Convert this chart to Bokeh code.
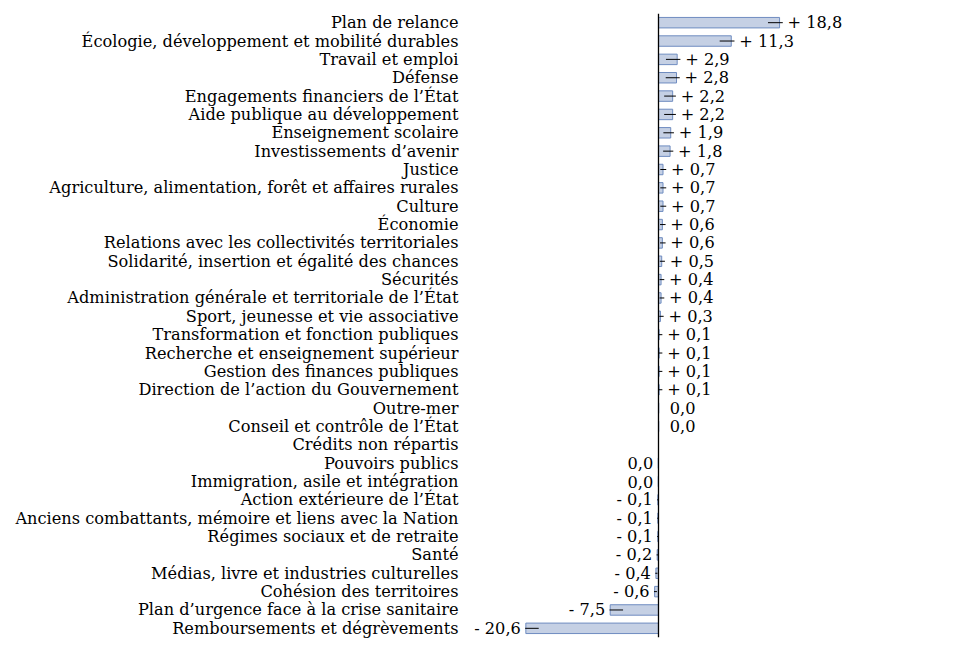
from bokeh.plotting import figure
from bokeh.models import ColumnDataSource, Range1d, FactorRange, Span
from bokeh.core.properties import value
from bokeh.embed import file_html
from bokeh.resources import INLINE

categories = [
    "Plan de relance",
    "Écologie, développement et mobilité durables",
    "Travail et emploi",
    "Défense",
    "Engagements financiers de l’État",
    "Aide publique au développement",
    "Enseignement scolaire",
    "Investissements d’avenir",
    "Justice",
    "Agriculture, alimentation, forêt et affaires rurales",
    "Culture",
    "Économie",
    "Relations avec les collectivités territoriales",
    "Solidarité, insertion et égalité des chances",
    "Sécurités",
    "Administration générale et territoriale de l’État",
    "Sport, jeunesse et vie associative",
    "Transformation et fonction publiques",
    "Recherche et enseignement supérieur",
    "Gestion des finances publiques",
    "Direction de l’action du Gouvernement",
    "Outre-mer",
    "Conseil et contrôle de l’État",
    "Crédits non répartis",
    "Pouvoirs publics",
    "Immigration, asile et intégration",
    "Action extérieure de l’État",
    "Anciens combattants, mémoire et liens avec la Nation",
    "Régimes sociaux et de retraite",
    "Santé",
    "Médias, livre et industries culturelles",
    "Cohésion des territoires",
    "Plan d’urgence face à la crise sanitaire",
    "Remboursements et dégrèvements",
]

values = [18.8, 11.3, 2.9, 2.8, 2.2, 2.2, 1.9, 1.8, 0.7, 0.7, 0.7, 0.6, 0.6,
          0.5, 0.4, 0.4, 0.3, 0.1, 0.1, 0.1, 0.1, 0.04, 0.04, None, -0.04,
          -0.04, -0.1, -0.1, -0.1, -0.2, -0.4, -0.6, -7.5, -20.6]

FONT = "DejaVu Serif"
FSIZE = "16.2px"
BAR_FILL = "#c5d0e4"
BAR_LINE = "#6f8cc0"

cats, vals = [], []
for c, v in zip(categories, values):
    if v is not None:
        cats.append(c)
        vals.append(v)

def fmt(v):
    r = round(v, 1)
    s = ("%.1f" % abs(r)).replace(".", ",")
    if r > 0:
        return "+ " + s
    if r < 0:
        return "- " + s
    return s

pos = dict(cat=[], x=[], text=[], off=[])
neg = dict(cat=[], x=[], text=[], off=[])
seg = dict(cat=[], x0=[], x1=[])
for c, v in zip(cats, vals):
    if v >= 0:
        pos["cat"].append(c); pos["x"].append(v); pos["text"].append(fmt(v))
        pos["off"].append(8 if abs(v) >= 0.05 else 11)
        if abs(v) >= 0.05:
            seg["cat"].append(c); seg["x0"].append(v - min(1.8, 0.6 * v)); seg["x1"].append(v + 0.5)
    else:
        neg["cat"].append(c); neg["x"].append(v); neg["text"].append(fmt(v))
        neg["off"].append(-5)
        if abs(v) >= 0.05:
            seg["cat"].append(c); seg["x0"].append(v - 0.1); seg["x1"].append(v + min(2.0, 0.6 * abs(v)))

p = figure(width=953, height=642, output_backend="svg", toolbar_location=None,
           y_range=FactorRange(factors=list(reversed(categories)), range_padding=0),
           x_range=Range1d(-30.28, 45.81),
           min_border_left=463, min_border_right=0, min_border_top=13, min_border_bottom=5)

p.hbar(y=cats, left=0, right=vals, height=0.57, fill_color=BAR_FILL, line_color=BAR_LINE, line_width=1)
p.segment(x0="x0", x1="x1", y0="cat", y1="cat", source=ColumnDataSource(seg), line_color="black", line_width=1)
p.add_layout(Span(location=0, dimension="height", line_color="black", line_width=1.3))

p.text(x="x", y="cat", text="text", x_offset="off", source=ColumnDataSource(pos),
       text_font=value(FONT), text_font_size=FSIZE, text_align="left", text_baseline="middle", text_color="black")
p.text(x="x", y="cat", text="text", x_offset="off", source=ColumnDataSource(neg),
       text_font=value(FONT), text_font_size=FSIZE, text_align="right", text_baseline="middle", text_color="black")

p.xaxis.visible = False
p.xgrid.visible = False
p.ygrid.visible = False
p.outline_line_color = None
p.yaxis.axis_line_color = None
p.yaxis.major_tick_line_color = None
p.yaxis.minor_tick_line_color = None
p.yaxis.major_tick_out = 0
p.yaxis.major_label_standoff = 5
p.yaxis.major_label_text_font = FONT
p.yaxis.major_label_text_font_size = FSIZE
p.yaxis.major_label_text_color = "black"
p.background_fill_color = "white"
p.border_fill_color = "white"

open("out.html", "w").write(file_html(p, INLINE))
